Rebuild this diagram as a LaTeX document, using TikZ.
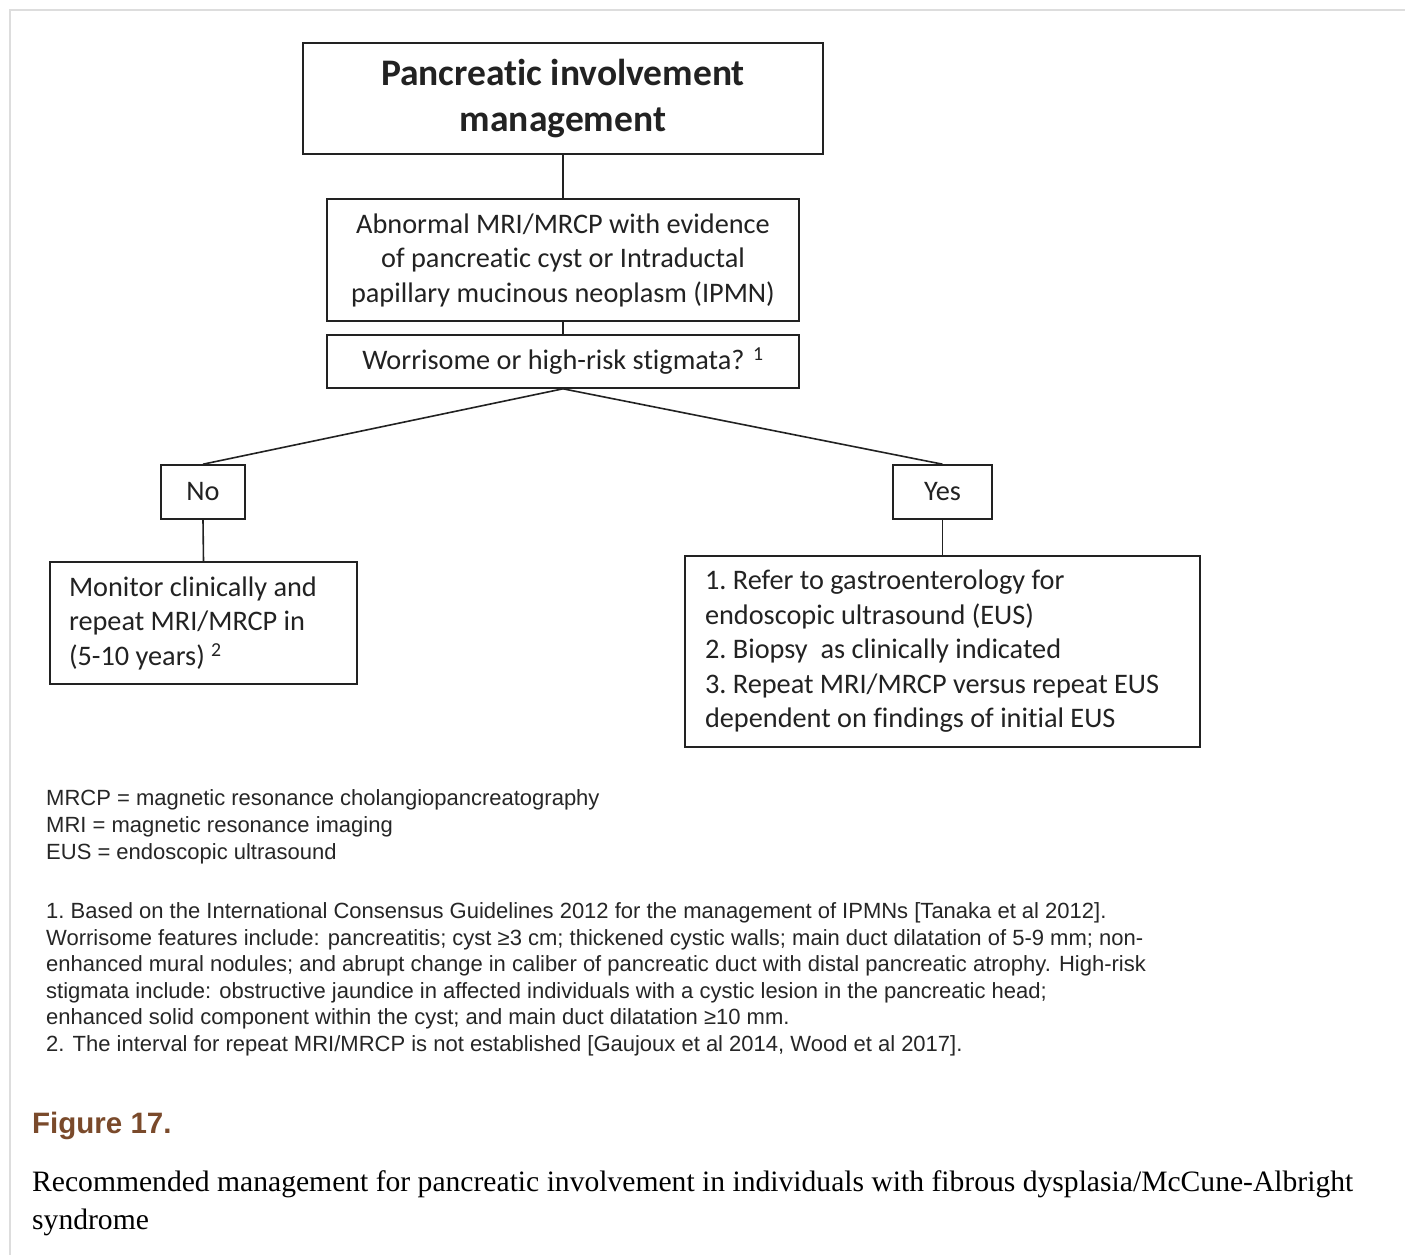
\documentclass[tikz,border=0pt]{standalone}
\usepackage{fontspec}
\setmainfont{Carlito}[Ligatures=NoCommon]
\newfontfamily\arialfont{Liberation Sans}
\newfontfamily\timesfont{Liberation Serif}
\definecolor{figbrown}{HTML}{7A4A2B}
\definecolor{framegray}{HTML}{DDDDDD}
\definecolor{inkgray}{HTML}{222222}

\begin{document}
\begin{tikzpicture}[x=1pt,y=-1pt,
  box/.style={draw=inkgray, line width=1.6pt, inner sep=0pt, text=inkgray},
  link/.style={draw=inkgray, line width=1.6pt},
  boxfont/.style={font=\fontsize{28.3}{34.5}\selectfont},
  notefont/.style={font=\arialfont\fontsize{22}{26.6}\selectfont, text=black!85},
]
\useasboundingbox (0,0) rectangle (1405,1255);
\fill[white] (0,0) rectangle (1405,1255);

% page frame
\draw[framegray, line width=2pt] (10,1255) -- (10,10) -- (1405,10);

% flowchart boxes
\node[box, minimum width=520, minimum height=111, align=center,
      font=\bfseries\fontsize{37.5}{46}\selectfont] (title) at (563,98.5)
  {Pancreatic involvement\\management};
\node[box, boxfont, minimum width=472, minimum height=122, align=center] (abn) at (563,260)
  {Abnormal MRI/MRCP with evidence\\of pancreatic cyst or Intraductal\\papillary mucinous neoplasm (IPMN)};
\node[box, boxfont, minimum width=472, minimum height=53, align=center] (wor) at (563,361.5)
  {Worrisome or high-risk stigmata? \textsuperscript{1}};
\node[box, boxfont, minimum width=84, minimum height=54] (no) at (203,492) {No};
\node[box, boxfont, minimum width=99, minimum height=54] (yes) at (942.5,492) {Yes};
\node[box, boxfont, inner xsep=19pt, text width=269, minimum height=122, align=flush left] (mon) at (203.5,623)
  {\frenchspacing Monitor clinically and\\repeat MRI/MRCP in\\(5-10 years) \textsuperscript{2}};
\node[box, boxfont, inner xsep=20pt, text width=475, minimum height=191, align=flush left] (act) at (942.5,651.5)
  {\frenchspacing 1. Refer to gastroenterology for\\endoscopic ultrasound (EUS)\\2. Biopsy\ \ as clinically indicated\\3. Repeat MRI/MRCP versus repeat EUS\\dependent on findings of initial EUS};

% connectors
\draw[link] (title.south) -- (abn.north);
\draw[link] (abn.south) -- (wor.north);
\draw[link] (wor.south) -- (no.north);
\draw[link] (wor.south) -- (yes.north);
\draw[link] (no.south) -- (mon.north);
\draw[link] (yes.south) -- (act.north);

% abbreviations (anchored at the baseline of the last line)
\node[notefont, anchor=base west, align=flush left, inner sep=0pt] (abbr) at (46,859)
  {MRCP = magnetic resonance cholangiopancreatography\\
   MRI = magnetic resonance imaging\\
   EUS = endoscopic ultrasound};

% footnotes (anchored at the baseline of the last line)
\node[notefont, anchor=base west, align=flush left, inner sep=0pt] (notes) at (46,1051.5)
  {\frenchspacing 1. Based on the International Consensus Guidelines 2012 for the management of IPMNs [Tanaka et al 2012].\\
   Worrisome features include: pancreatitis; cyst ≥3 cm; thickened cystic walls; main duct dilatation of 5-9 mm; non-\\
   enhanced mural nodules; and abrupt change in caliber of pancreatic duct with distal pancreatic atrophy. High-risk\\
   stigmata include: obstructive jaundice in affected individuals with a cystic lesion in the pancreatic head;\\
   enhanced solid component within the cyst; and main duct dilatation ≥10 mm.\\
   2. The interval for repeat MRI/MRCP is not established [Gaujoux et al 2014, Wood et al 2017].};

% caption
\node[anchor=base west, inner sep=0pt, text=figbrown,
      font=\arialfont\bfseries\fontsize{29.5}{36}\selectfont] (fig) at (32,1133) {Figure 17.};
\node[anchor=base west, inner sep=0pt, align=flush left,
      font=\timesfont\fontsize{29.6}{38}\selectfont] (cap) at (32,1229)
  {Recommended management for pancreatic involvement in individuals with fibrous dysplasia/McCune-Albright\\syndrome};
\end{tikzpicture}
\end{document}
